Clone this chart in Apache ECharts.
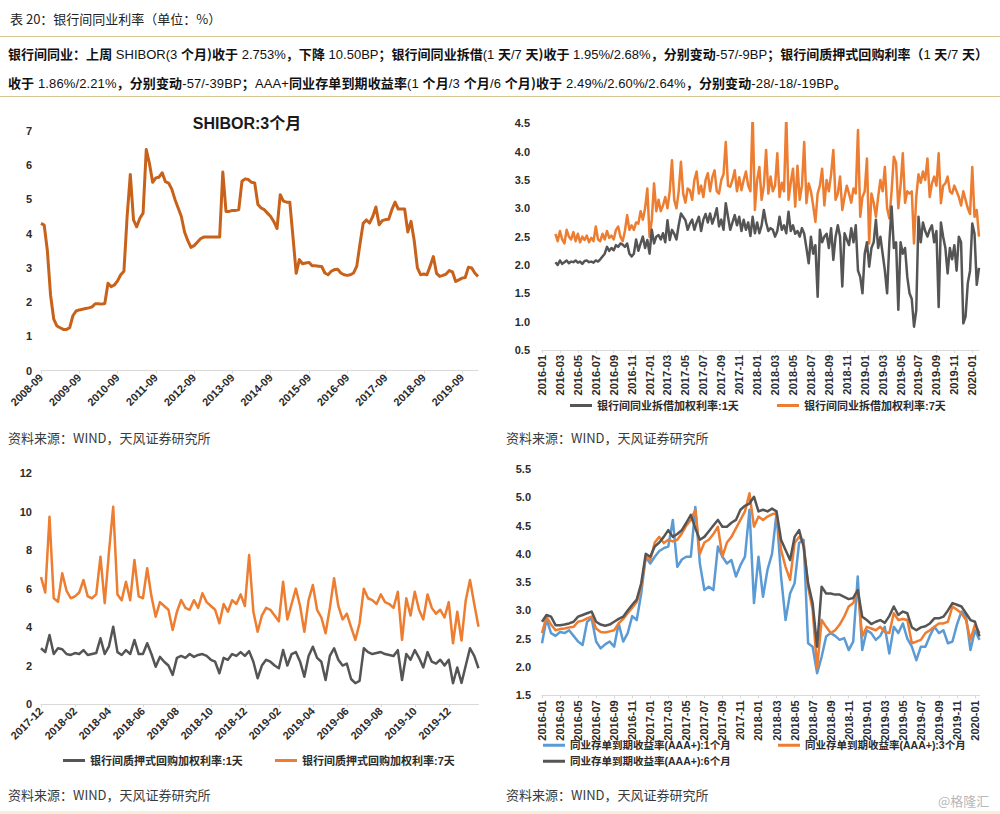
<!DOCTYPE html>
<html><head><meta charset="utf-8">
<script src="https://cdn.jsdelivr.net/npm/echarts@6/dist/echarts.min.js"></script>
<style>
html,body{margin:0;padding:0;background:#fff;}
#wrap{position:relative;width:1000px;height:814px;overflow:hidden;font-family:"Liberation Sans","Noto Sans CJK SC",sans-serif;}
#chart{position:absolute;left:0;top:0;width:1000px;height:814px;}
.t{position:absolute;white-space:nowrap;color:#222;}
.rule{position:absolute;left:0;width:1000px;height:1px;background:#d8c48e;}
.hd{font-size:13px;line-height:17px;color:#111;}
.hd b{font-family:"Noto Sans CJK SC",sans-serif;font-weight:bold;}
.src{font-size:13px;line-height:17px;color:#3a3a3a;font-family:"Noto Sans CJK SC",sans-serif;}
</style></head>
<body><div id="wrap">
<div id="chart"></div>
<div class="t" style="left:10px;top:10px;font-size:13px;line-height:17px;color:#222;font-family:'Noto Sans CJK SC',sans-serif;">表 20：银行间同业利率（单位：%）</div>
<div class="rule" style="top:36px"></div>
<div class="t hd" id="l1" style="left:8px;top:45px;"><b>银行间同业：上周</b> SHIBOR(3 <b>个月)收于</b> 2.753%<b>，下降</b> 10.50BP<b>；银行间同业拆借</b>(1 <b>天</b>/7 <b>天)收于</b> 1.95%/2.68%<b>，分别变动</b>-57/-9BP<b>；银行间质押式回购利率（</b>1 <b>天</b>/7 <b>天）</b></div>
<div class="t hd" id="l2" style="left:8px;top:74px;"><b>收于</b> 1.86%/2.21%<b>，分别变动</b>-57/-39BP<b>；</b>AAA+<b>同业存单到期收益率</b>(1 <b>个月</b>/3 <b>个月</b>/6 <b>个月)收于</b> 2.49%/2.60%/2.64%<b>，分别变动</b>-28/-18/-19BP<b>。</b></div>
<div class="rule" style="top:96px"></div>
<div class="t" style="left:147px;width:200px;top:114px;text-align:center;font-size:16px;line-height:20px;font-weight:bold;color:#1a1a1a;">SHIBOR:3个月</div>
<div class="t src" style="left:8px;top:429px">资料来源：WIND，天风证券研究所</div>
<div class="t src" style="left:506px;top:429px">资料来源：WIND，天风证券研究所</div>
<div class="t src" style="left:8px;top:786px">资料来源：WIND，天风证券研究所</div>
<div class="t src" style="left:506px;top:786px">资料来源：WIND，天风证券研究所</div>
<div class="t" style="left:938px;top:792px;font-size:13px;line-height:17px;color:#b8b8b8;font-family:'Noto Sans CJK SC',sans-serif;">@格隆汇</div>
<div style="position:absolute;left:0;top:811px;width:1000px;height:3px;background:#f6f0d8;"></div>
</div>
<script>
// ---------------- DATA ----------------
// SHIBOR 3M, monthly 2008-09 .. 2020-02
const shiborValues = [4.30,4.25,3.5,2.2,1.5,1.3,1.25,1.2,1.2,1.25,
1.6,1.74,1.77,1.79,1.81,1.83,1.86,1.95,1.95,1.94,
1.96,2.55,2.45,2.5,2.62,2.8,2.9,4.5,5.73,4.4,
4.2,4.45,4.6,6.46,6.05,5.5,5.63,5.65,5.78,5.52,
5.48,5.3,5.0,4.75,4.5,4.05,3.8,3.6,3.65,3.75,
3.85,3.9,3.9,3.9,3.9,3.9,3.9,5.8,4.65,4.65,
4.68,4.68,4.7,5.53,5.6,5.58,5.5,5.48,4.85,4.75,
4.7,4.6,4.5,4.35,4.15,5.14,4.95,4.92,4.92,3.9,
2.84,3.24,3.12,3.14,3.16,3.06,3.06,3.05,3.04,2.85,
2.8,2.9,2.95,2.96,2.85,2.8,2.78,2.8,2.85,3.05,
3.7,4.3,4.4,4.31,4.5,4.78,4.26,4.38,4.41,4.42,
4.7,4.92,4.72,4.72,4.72,4.05,4.36,3.8,3.0,2.8,
2.82,2.8,3.05,3.33,2.84,2.75,2.78,2.82,2.92,2.88,
2.6,2.65,2.7,2.72,3.02,3.0,2.85,2.75];

// Interbank lending weighted rates, 4 points per month 2016-01 .. 2020-01
const ib1d = [null,null,null,null,null,null,2.05,2.0,2.08,2.02,
2.05,2.08,2.03,2.06,2.05,2.08,2.04,2.06,2.02,2.07,
2.08,2.05,2.06,2.04,2.08,2.06,2.1,2.15,2.2,2.32,
2.25,2.3,2.26,2.35,2.32,2.38,2.36,2.32,2.38,2.2,
2.15,2.2,2.45,2.25,2.38,2.5,2.3,2.44,2.2,2.62,
2.38,2.5,2.53,2.45,2.56,2.4,2.79,2.44,2.62,2.55,
2.45,2.7,2.91,2.85,2.79,2.62,2.73,2.8,2.62,2.75,
2.85,2.6,2.8,2.9,2.75,2.91,2.73,2.85,3.0,2.68,
2.8,2.62,3.09,2.85,2.62,2.75,2.88,2.7,2.85,2.6,
2.8,2.62,2.75,2.51,2.85,2.56,2.75,2.56,2.7,2.97,
2.75,2.6,2.65,2.62,2.5,2.6,2.85,2.62,2.7,2.56,
2.94,2.6,2.7,2.55,2.6,2.5,2.65,2.55,2.3,2.03,
2.5,2.2,2.35,1.44,2.62,2.4,2.5,2.55,2.3,2.65,
2.09,2.5,2.7,2.5,1.62,2.56,2.45,2.35,2.65,2.4,
2.7,1.9,1.79,1.5,2.2,2.4,1.97,2.3,2.4,2.8,
2.3,2.5,2.2,1.9,1.5,2.4,3.03,2.3,2.4,1.21,
2.4,2.2,2.3,1.79,1.5,1.4,0.91,1.2,2.85,2.4,
2.75,2.6,2.5,2.62,2.7,2.4,2.6,1.26,2.75,2.5,
2.3,1.85,2.3,2.1,2.35,1.9,2.5,2.4,0.97,1.09,
1.68,1.9,2.73,2.55,1.65,1.95];
const ib7d = [null,null,null,null,null,null,2.55,2.42,2.6,2.45,
2.38,2.62,2.5,2.45,2.58,2.42,2.55,2.4,2.5,2.44,
2.52,2.4,2.48,2.42,2.68,2.45,2.42,2.55,2.45,2.6,
2.48,2.52,2.45,2.62,2.68,2.5,2.42,2.6,2.88,2.62,
2.7,2.62,2.75,2.73,2.95,2.8,3.0,3.35,2.5,2.8,
3.44,2.95,3.15,2.95,3.05,3.2,3.0,3.3,3.85,3.15,
3.0,3.3,3.82,3.26,3.1,3.35,3.32,3.15,3.5,3.65,
3.26,3.4,3.2,3.5,3.62,3.3,3.55,3.67,3.3,3.26,
3.5,3.6,4.17,3.4,3.38,3.5,3.67,3.3,3.55,3.32,
3.5,3.65,3.4,3.3,4.67,2.97,3.5,3.73,3.15,3.4,
4.03,3.26,3.56,3.3,3.4,3.97,3.2,3.45,3.3,4.64,
3.15,3.45,3.7,3.03,3.75,3.15,3.4,4.17,3.09,3.44,
3.3,3.05,2.76,3.26,3.4,3.7,3.05,3.5,3.3,3.6,
4.03,3.15,3.26,3.56,2.97,3.2,3.4,3.26,3.1,3.35,
3.26,4.38,2.85,3.2,3.3,3.88,2.38,3.26,3.1,2.85,
3.2,3.5,3.3,3.73,3.0,2.82,3.3,3.91,3.8,3.0,
3.4,3.97,3.1,3.3,3.26,3.3,2.38,3.2,3.6,3.45,
3.65,3.5,3.88,3.2,3.44,3.56,3.4,3.97,3.09,3.4,
3.44,3.56,3.3,3.26,3.4,3.3,3.2,3.05,3.3,3.15,
3.0,2.9,3.73,2.85,2.97,2.5];

// Pledged repo weighted rates, 4 points per month 2017-12 .. 2020-01
const repo1d = [2.9,2.7,3.59,2.6,2.9,2.85,2.6,2.55,2.65,2.6,
2.8,2.55,2.6,2.65,3.42,2.6,3.0,4.02,2.7,2.55,
2.8,2.6,3.33,2.6,2.6,3.16,2.6,1.94,2.45,2.2,
2.0,1.51,2.4,2.5,2.4,2.6,2.45,2.55,2.6,2.5,
2.3,2.2,1.6,2.4,2.3,2.6,2.5,2.7,2.5,2.75,
2.2,1.34,2.0,2.3,2.2,2.0,1.86,2.81,2.0,2.6,
2.7,2.2,1.42,2.5,2.98,2.4,2.2,1.25,2.5,2.9,
2.3,2.0,2.1,1.3,1.08,1.2,2.9,2.7,2.6,2.65,
2.7,2.6,2.55,2.5,2.8,1.25,2.6,2.3,2.8,2.4,
1.9,2.7,2.2,2.1,2.3,2.0,2.3,1.08,1.9,1.1,
2.0,2.9,2.5,1.86];
const repo7d = [6.6,5.8,9.74,5.5,5.32,6.8,5.9,5.5,5.6,5.8,
6.45,5.6,5.5,5.7,7.66,5.24,7.9,10.26,5.7,5.4,
6.36,5.4,7.49,5.6,5.5,7.06,5.6,4.54,5.3,5.1,
4.9,3.85,4.8,5.41,5.0,4.9,5.4,5.0,5.76,5.3,
5.1,4.9,4.2,5.2,4.8,5.4,5.2,5.7,5.1,7.75,
4.8,3.76,4.6,5.0,4.9,4.6,4.3,6.36,4.4,5.2,
6.0,5.1,3.76,5.4,6.19,4.9,4.5,3.68,5.0,6.54,
5.1,4.4,4.7,4.0,3.33,4.2,6.0,5.5,5.4,5.2,
5.7,5.3,5.2,5.0,5.84,3.33,5.5,4.6,5.84,4.9,
4.4,5.7,5.0,4.7,4.9,4.5,5.3,3.16,4.8,3.3,
5.4,6.45,5.2,4.02];

// NCD (AAA+) yields, 2 points per month 2016-01 .. 2020-01
const ncd1m = [2.42,2.85,2.6,2.55,2.62,2.6,2.65,2.55,2.45,2.39,
2.8,2.86,2.45,2.33,2.4,2.45,2.36,2.77,2.45,2.6,
2.9,2.83,3.3,3.95,3.83,3.95,4.05,4.1,4.13,4.6,
3.77,3.9,3.95,3.95,4.83,3.83,3.36,3.42,3.36,4.13,
3.95,3.83,3.89,3.6,3.8,3.95,4.78,3.13,3.95,3.24,
3.72,4.0,4.72,3.6,2.83,3.3,3.48,4.19,4.25,2.42,
2.36,1.89,2.18,2.54,2.6,2.55,2.48,2.51,2.3,2.45,
3.6,2.3,2.65,2.6,2.48,2.55,2.71,2.24,2.71,2.6,
2.77,2.5,2.36,2.12,2.36,2.36,2.55,2.71,2.6,2.65,
2.42,2.45,2.75,2.98,2.9,2.3,2.65,2.48];
const ncd3m = [2.6,2.89,2.75,2.65,2.67,2.68,2.7,2.71,2.8,2.82,
2.86,2.89,2.68,2.62,2.61,2.63,2.65,2.77,2.85,2.95,
3.05,3.15,3.42,3.95,3.89,4.2,4.3,4.19,4.25,4.22,
4.25,4.36,4.5,4.6,4.78,4.0,4.2,4.25,4.35,4.48,
3.95,4.2,4.3,4.45,4.6,4.75,5.07,4.48,4.66,4.6,
4.66,4.7,4.72,4.07,3.77,3.54,4.19,4.3,4.19,3.42,
3.01,1.98,2.83,2.71,2.6,2.65,2.75,2.89,3.07,3.13,
3.36,2.54,2.71,2.68,2.65,2.71,2.62,2.6,2.95,2.83,
2.85,2.83,2.42,2.45,2.48,2.6,2.65,2.71,2.77,2.77,
2.8,3.07,3.01,2.95,2.83,2.48,2.75,2.6];
const ncd6m = [2.8,2.92,2.89,2.74,2.74,2.75,2.77,2.8,2.89,2.92,
2.95,2.98,2.8,2.75,2.73,2.75,2.8,2.85,2.89,3.0,
3.1,3.19,3.48,4.0,3.95,4.13,4.2,4.3,4.42,4.3,
4.35,4.42,4.55,4.69,4.45,4.25,4.3,4.4,4.5,4.6,
4.48,4.48,4.55,4.6,4.78,4.85,4.89,5.01,4.75,4.78,
4.75,4.8,4.75,4.25,4.07,3.89,4.3,4.42,4.13,3.48,
3.13,2.36,3.42,3.3,3.3,3.28,3.28,3.24,3.2,3.22,
3.36,2.89,2.83,2.76,2.8,2.83,2.78,2.9,3.07,2.92,
2.98,2.95,2.7,2.65,2.7,2.72,2.77,2.86,2.86,2.89,
3.0,3.13,3.1,3.07,2.95,2.83,2.8,2.54];

const names = {
  ib1: '银行间同业拆借加权利率:1天', ib7: '银行间同业拆借加权利率:7天',
  rp1: '银行间质押式回购加权利率:1天', rp7: '银行间质押式回购加权利率:7天',
  n1: '同业存单到期收益率(AAA+):1个月', n3: '同业存单到期收益率(AAA+):3个月', n6: '同业存单到期收益率(AAA+):6个月'
};

// category builders (date labels)
function cats(y0, m0, nMonths, per) {
  const out = [];
  for (let i = 0; i < nMonths; i++) {
    const y = y0 + Math.floor((m0 - 1 + i) / 12);
    const m = (m0 - 1 + i) % 12 + 1;
    const ym = y + '-' + (m < 10 ? '0' + m : m);
    for (let k = 0; k < per; k++) out.push(per > 1 ? ym + '/' + (k + 1) : ym);
  }
  return out;
}
const shiborCats = cats(2008, 9, 138, 1);
const ibCats = cats(2016, 1, 49, 4);
const repoCats = cats(2017, 12, 26, 4);
const ncdCats = cats(2016, 1, 49, 2);

// ---------------- CHART ----------------
const FONT = '"Liberation Sans","Noto Sans CJK SC",sans-serif';
const GRAY = '#555555', ORANGE = '#ED7D31', BLUE = '#5B9BD5', BROWN = '#C8621A';

function xAx(gi, data, every, rotate) {
  return {type: 'category', gridIndex: gi, data, boundaryGap: false,
    axisLine: {lineStyle: {color: '#d9d9d9', width: 1}},
    axisTick: {show: true, interval: (i) => i % every === 0, length: 3, lineStyle: {color: '#d9d9d9'}},
    axisLabel: {interval: (i) => i % every === 0, rotate, formatter: v => v.slice(0, 7),
      color: '#2b2b2b', fontWeight: 'bold', fontSize: 11, fontFamily: FONT, margin: 5},
    splitLine: {show: false}};
}
function yAx(gi, min, max, interval, dec, margin) {
  return {type: 'value', gridIndex: gi, min, max, interval,
    axisLine: {show: false}, axisTick: {show: false}, splitLine: {show: false},
    axisLabel: {color: '#2b2b2b', fontWeight: 'bold', fontSize: 11, fontFamily: FONT, margin,
      formatter: v => dec ? v.toFixed(1) : String(v)}};
}
function ln(name, gi, data, color, width, z) {
  return {type: 'line', name, xAxisIndex: gi, yAxisIndex: gi, data, showSymbol: false, symbol: 'none',
    lineStyle: {color, width, join: 'round'}, itemStyle: {color}, z, emphasis: {disabled: true}, connectNulls: false};
}
function lg(name, left, top, fs) {
  return {data: [name], left, top, padding: 0, icon: 'rect', itemWidth: 22, itemHeight: 3, selectedMode: false,
    textStyle: {fontSize: fs, fontWeight: 'bold', color: '#2b2b2b', fontFamily: FONT}};
}

const chart = echarts.init(document.getElementById('chart'), null, {renderer: 'svg'});
chart.setOption({
  animation: false,
  backgroundColor: 'transparent',
  grid: [
    {left: 41, top: 131, width: 437, height: 239.5, outerBoundsMode: 'none'},
    {left: 542, top: 123.3, width: 437, height: 226.7, outerBoundsMode: 'none'},
    {left: 41, top: 473.3, width: 437.5, height: 230.7, outerBoundsMode: 'none'},
    {left: 542, top: 469, width: 437.5, height: 226.3, outerBoundsMode: 'none'}
  ],
  xAxis: [
    xAx(0, shiborCats, 12, 45),
    xAx(1, ibCats, 8, 90),
    xAx(2, repoCats, 8, 45),
    xAx(3, ncdCats, 4, 90)
  ],
  yAxis: [
    yAx(0, 0, 7, 1, false, 9),
    yAx(1, 0.5, 4.5, 0.5, true, 12),
    yAx(2, 0, 12, 2, false, 9),
    yAx(3, 1.5, 5.5, 0.5, true, 11)
  ],
  legend: [
    lg(names.ib1, 570, 400, 11), lg(names.ib7, 777, 400, 11),
    lg(names.rp1, 63, 755, 11), lg(names.rp7, 275, 755, 11),
    lg(names.n1, 543, 740, 10.5), lg(names.n3, 778, 740, 10.5), lg(names.n6, 543, 756, 10.5)
  ],
  series: [
    ln('SHIBOR:3个月', 0, shiborValues, BROWN, 3, 2),
    ln(names.ib7, 1, ib7d, ORANGE, 2.5, 2),
    ln(names.ib1, 1, ib1d, GRAY, 2.5, 3),
    ln(names.rp7, 2, repo7d, ORANGE, 2.5, 2),
    ln(names.rp1, 2, repo1d, GRAY, 2.5, 3),
    ln(names.n1, 3, ncd1m, BLUE, 2.5, 2),
    ln(names.n3, 3, ncd3m, ORANGE, 2.5, 3),
    ln(names.n6, 3, ncd6m, GRAY, 2.5, 4)
  ]
});

// fit header lines to the reference widths
function fit(id, target) {
  const el = document.getElementById(id);
  const w = el.getBoundingClientRect().width;
  const n = el.textContent.length;
  el.style.letterSpacing = ((target - w) / n) + 'px';
}
fit('l1', 980);
fit('l2', 839);
</script>
</body></html>
